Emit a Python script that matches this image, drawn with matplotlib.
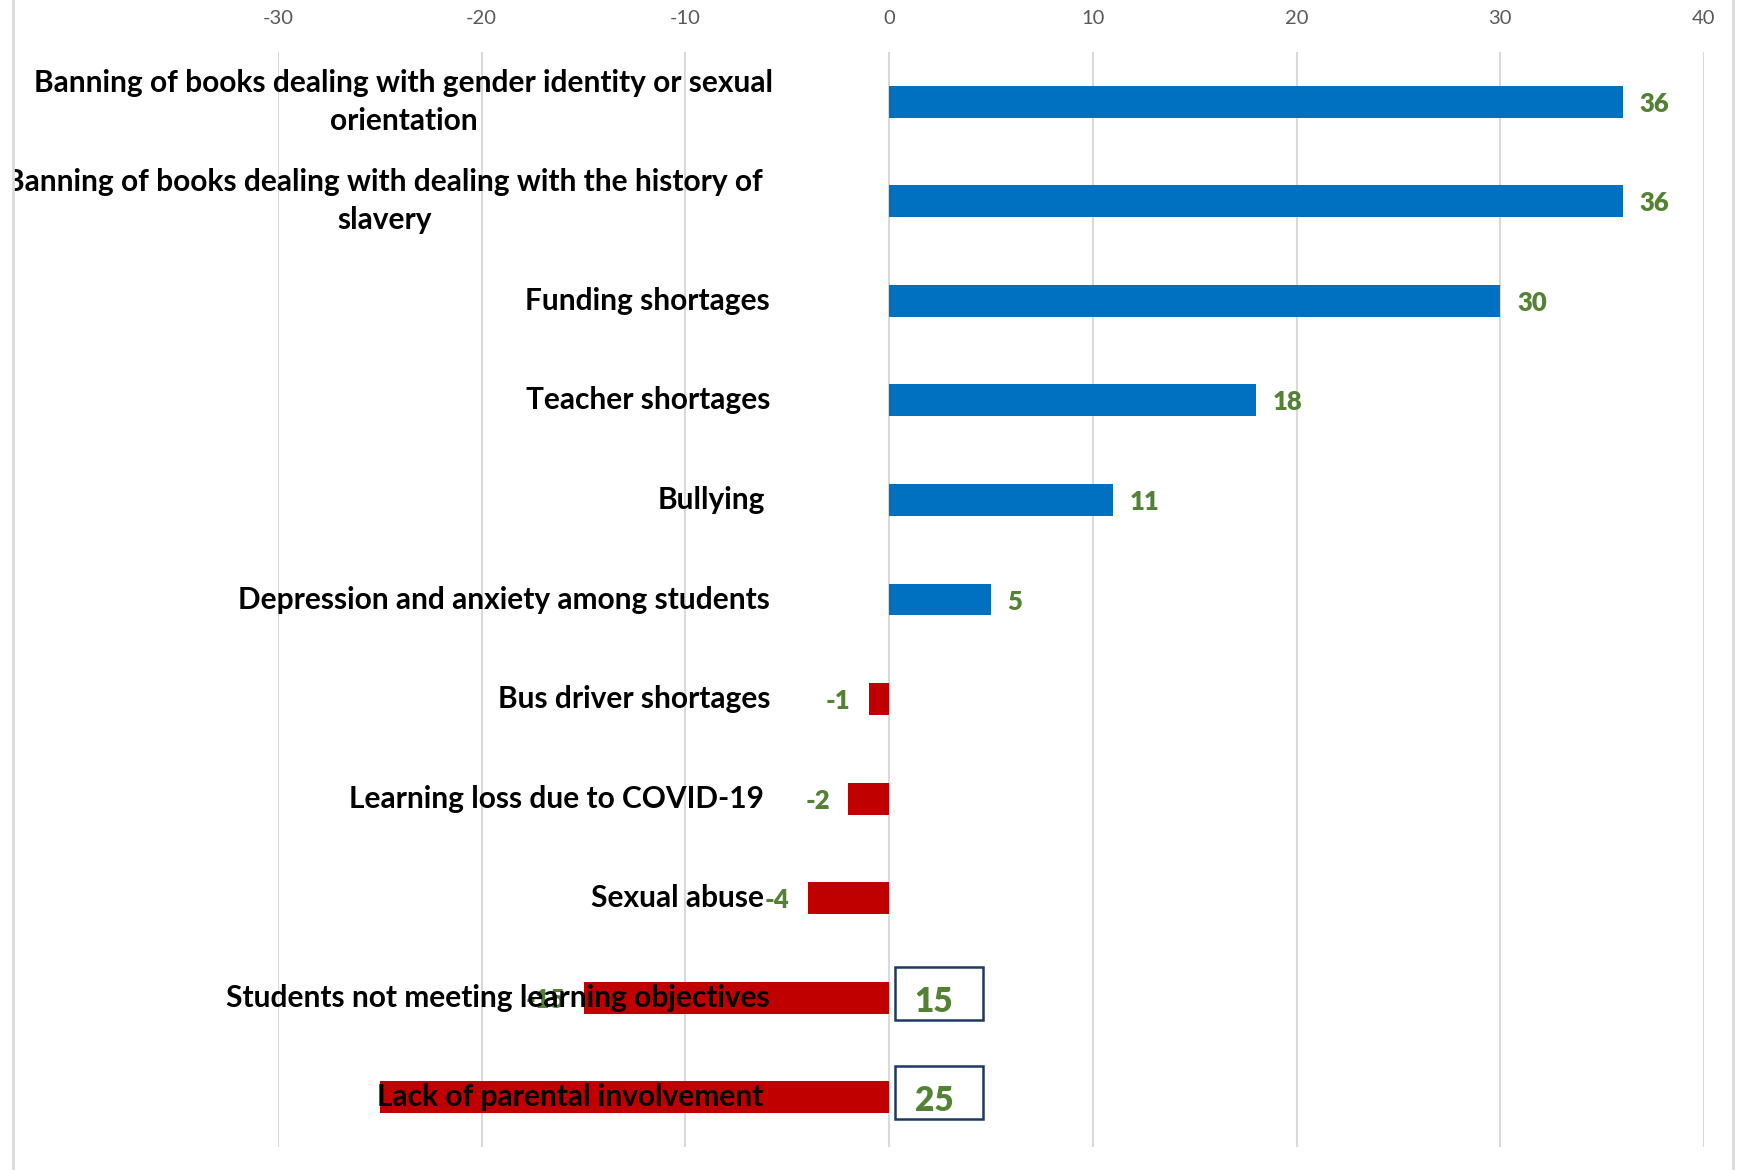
import matplotlib
matplotlib.use("Agg")
import matplotlib.pyplot as plt
from matplotlib.transforms import blended_transform_factory, Bbox, TransformedBbox
from matplotlib.lines import Line2D
from matplotlib.patches import Rectangle

categories = [
    "Banning of books dealing with gender identity or sexual\norientation",
    "Banning of books dealing with dealing with the history of\nslavery",
    "Funding shortages",
    "Teacher shortages",
    "Bullying",
    "Depression and anxiety among students",
    "Bus driver shortages",
    "Learning loss due to COVID-19",
    "Sexual abuse",
    "Students not meeting learning objectives",
    "Lack of parental involvement",
]
values = [36, 36, 30, 18, 11, 5, -1, -2, -4, -15, -25]
bar_labels = ["36", "36", "30", "18", "11", "5", "-1", "-2", "-4", "-15", ""]
boxed_labels = {9: "15", 10: "25"}
xticks = [-30, -20, -10, 0, 10, 20, 30, 40]

W, H = 1743, 1170
BLUE, RED, GREEN = "#0070C0", "#C00000", "#548235"
GRID = "#D9D9D9"
FONT = "Lato"

fig = plt.figure(figsize=(W / 100, H / 100), dpi=100)
ax = fig.add_axes([278 / W, 1 - 1147 / H, (1704 - 278) / W, (1147 - 52) / H])

ypos = list(range(len(categories)))
colors = [BLUE if v >= 0 else RED for v in values]
ax.barh(ypos, values, height=0.32, color=colors, zorder=2)

ax.set_xlim(-30, 40)
ax.set_ylim(len(categories) - 0.5, -0.5)
ax.set_xticks(xticks)
ax.set_xticklabels([str(t) for t in xticks], fontfamily=FONT, fontsize=14.5, color="#595959")
ax.xaxis.tick_top()
ax.tick_params(axis="x", length=0, pad=18)
ax.set_yticks([])
ax.grid(axis="x", color=GRID, lw=1.5, zorder=0)
for s in ax.spines.values():
    s.set_visible(False)

# value labels
for i, (v, lab) in enumerate(zip(values, bar_labels)):
    if not lab:
        continue
    off = 12 if v >= 0 else -13
    ax.annotate(lab, xy=(v, i), xytext=(off, -1.5), textcoords="offset points",
                ha="left" if v >= 0 else "right", va="center",
                fontfamily=FONT, fontweight="heavy", fontsize=18.5, color=GREEN, zorder=3)

# category labels
tr = blended_transform_factory(fig.transFigure, ax.transData)
nudge = [773, 763, 770, 770, 765, 770, 770, 764, 764, 770, 763]
clip = TransformedBbox(Bbox([[13 / W, 0], [1733 / W, 1]]), fig.transFigure)
for i, cat in enumerate(categories):
    t = ax.text(nudge[i] / W, i, cat, transform=tr, ha="right", va="center",
                multialignment="center", fontfamily=FONT, fontweight="bold",
                fontsize=21.5, color="black", zorder=4, linespacing=1.45)
    t.set_clip_box(clip)
    t.set_clip_on(True)

# boxed labels
for i, lab in boxed_labels.items():
    ax.add_patch(Rectangle((0.28, i - 0.31), 4.34, 0.53, fill=False,
                           edgecolor="#203864", lw=1.8, zorder=3, clip_on=False))
    ax.text(2.2, i + 0.04, lab, ha="center", va="center", fontfamily=FONT,
            fontweight="heavy", fontsize=24, color=GREEN, zorder=4)

# chart border
for x in (13, 1733):
    fig.add_artist(Line2D([x / W, x / W], [0, 1], transform=fig.transFigure, color=GRID, lw=2))

fig.savefig("out.png", dpi=100, facecolor="white")
